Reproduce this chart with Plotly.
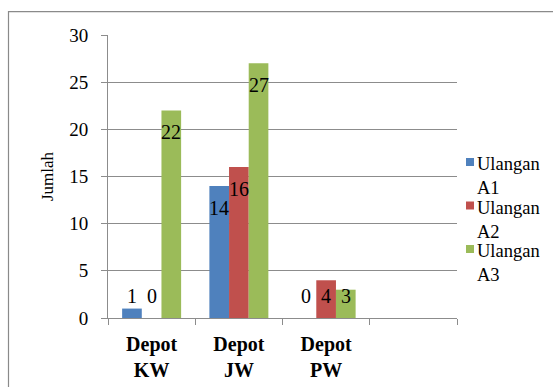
import plotly.graph_objects as go

# Categories (the fourth slot is an empty category on the axis)
categories = ["Depot<br>KW", "Depot<br>JW", "Depot<br>PW", " "]
series_names = ["Ulangan<br>A1", "Ulangan<br>A2", "Ulangan<br>A3"]
ulangan_a1 = [1, 14, 0, None]
ulangan_a2 = [0, 16, 4, None]
ulangan_a3 = [22, 27, 3, None]
colors = ["#4F81BD", "#C0504D", "#9BBB59"]

series_values = [ulangan_a1, ulangan_a2, ulangan_a3]

FONT = "Liberation Serif"
GRID = "#8C8C8C"
BARGAP = 0.324

fig = go.Figure()
for name, vals, col in zip(series_names, series_values, colors):
    fig.add_trace(go.Bar(
        x=categories, y=vals, name=name, showlegend=False,
        marker=dict(color=col, line=dict(width=0)),
    ))

# Data labels: inside the top of each bar, or just above the baseline for short bars
bar_w = (1 - BARGAP) / len(series_values)
for k, vals in enumerate(series_values):
    offset = (k - (len(series_values) - 1) / 2) * bar_w
    for i, v in enumerate(vals):
        if v is None:
            continue
        tall = v >= 5
        fig.add_annotation(
            x=i + offset, y=v if tall else 0, xref="x", yref="y",
            text=str(v), showarrow=False,
            yshift=-22 if tall else 22,
            font=dict(family=FONT, size=20, color="#000000"),
        )

# Legend on the right: small colour square followed by a two-line label
PLOT_W, PLOT_H = 553 - 108 - 96, 387 - 35 - 69
def px_x(p):
    return (p - 108) / PLOT_W
def px_y(p):
    return (387 - 69 - p) / PLOT_H

for k, (name, col) in enumerate(zip(series_names, colors)):
    top = 157 + k * 43.5
    fig.add_shape(type="rect", xref="paper", yref="paper",
                  x0=px_x(466), x1=px_x(474), y0=px_y(top + 1), y1=px_y(top + 9),
                  fillcolor=col, line=dict(width=0))
    fig.add_annotation(
        x=px_x(475), y=px_y(top - 5), xref="paper", yref="paper",
        xanchor="left", yanchor="top", align="left", showarrow=False,
        text=name, font=dict(family=FONT, size=18.5, color="#000000"),
    )

# Outer chart-area border (top and left edges)
fig.add_shape(type="path", xref="paper", yref="paper",
              path=f"M {px_x(8.5)} -0.5 L {px_x(8.5)} {px_y(11.7)} L 1.5 {px_y(11.7)}",
              line=dict(color="#8A8A8A", width=1.2))

fig.update_layout(
    width=553, height=387,
    margin=dict(l=108, r=96, t=35, b=69, autoexpand=False),
    paper_bgcolor="white", plot_bgcolor="white",
    barmode="group", bargap=BARGAP, bargroupgap=0,
    font=dict(family=FONT, color="#000000"),
    showlegend=False,
    xaxis=dict(
        type="category", categoryorder="array", categoryarray=categories,
        range=[-0.5, 3.5], tickson="boundaries",
        ticks="outside", ticklen=6, tickcolor=GRID, tickwidth=1,
        showline=True, linecolor=GRID, linewidth=1,
        showgrid=False, zeroline=False, ticklabelstandoff=8,
        tickfont=dict(family=FONT, size=20, color="#000000", weight="bold"),
    ),
    yaxis=dict(
        range=[0, 30], dtick=5, tick0=0,
        ticks="outside", ticklen=6, tickcolor=GRID, tickwidth=1,
        showline=True, linecolor=GRID, linewidth=1,
        showgrid=True, gridcolor=GRID, gridwidth=1, zeroline=False,
        ticklabelstandoff=9,
        tickfont=dict(family=FONT, size=19, color="#000000"),
        title=dict(text="Jumlah", standoff=11,
                   font=dict(family=FONT, size=17, color="#000000")),
    ),
)

fig.write_html("out.html")
